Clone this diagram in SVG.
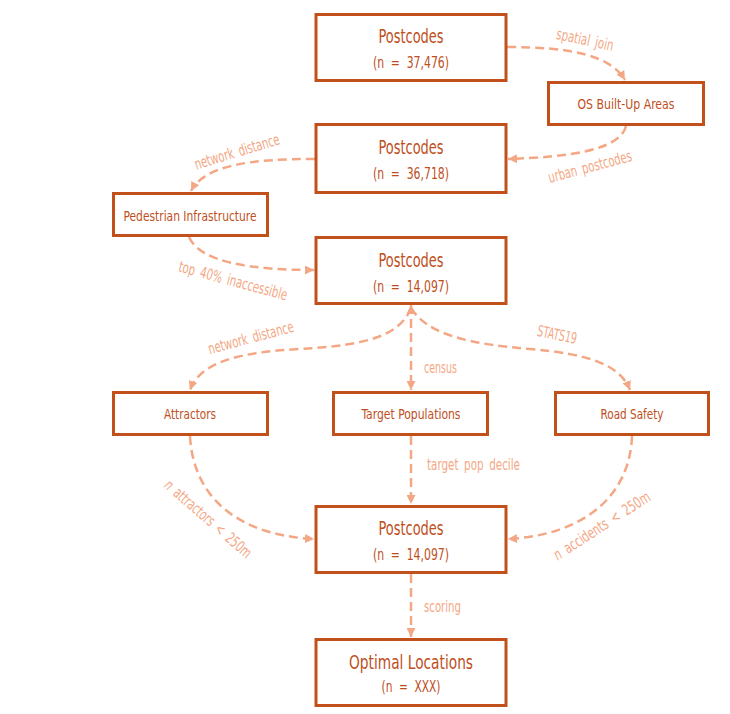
<svg xmlns="http://www.w3.org/2000/svg" width="730" height="714" viewBox="0 0 730 714">
<defs>
<style>
.box{fill:#fff;stroke:#C1501B;stroke-width:3}
.t{font-family:"Liberation Sans Narrow","DejaVu Sans Condensed","Liberation Sans",sans-serif;fill:#BE4F1C;text-anchor:middle}
.title{font-size:19px}
.sub{font-size:15px;word-spacing:4px}
.small{font-size:14.5px}
.e{fill:none;stroke:#F4A784;stroke-width:2.5;stroke-dasharray:9 5}
.lbl{font-family:"Liberation Sans Narrow","DejaVu Sans Condensed","Liberation Sans",sans-serif;font-size:15.5px;fill:#F4A784;word-spacing:3px}
</style>
<marker id="arr" viewBox="0 0 10 10" refX="10" refY="5" markerWidth="9" markerHeight="9" markerUnits="userSpaceOnUse" orient="auto-start-reverse">
<path d="M0,0 L10,5 L0,10 z" fill="#F4A784"/>
</marker>
</defs>
<rect width="730" height="714" fill="#fff"/>

<g id="connectors">
<path class="e" d="M507,47 C570,47 610,55 625,80" marker-end="url(#arr)"/>
<path class="e" d="M626,126 C620,150 570,157 508,159" marker-end="url(#arr)"/>
<path class="e" d="M315,159 C250,159 205,165 191,191" marker-end="url(#arr)"/>
<path class="e" d="M189,237 C200,262 250,270 314,270" marker-end="url(#arr)"/>
<path class="e" d="M411,308 C400,335 370,345 300,349 C240,352 200,362 190,390" marker-end="url(#arr)"/>
<path class="e" d="M411,305 L411,390" marker-start="url(#arr)" marker-end="url(#arr)"/>
<path class="e" d="M411,308 C425,330 455,343 530,349 C590,354 620,365 630,390" marker-end="url(#arr)"/>
<path class="e" d="M190,436 C193,495 235,535 314,539" marker-end="url(#arr)"/>
<path class="e" d="M411,436 L411,504" marker-end="url(#arr)"/>
<path class="e" d="M632,436 C630,495 585,535 508,539" marker-end="url(#arr)"/>
<path class="e" d="M411,574 L411,637" marker-end="url(#arr)"/>
<text class="lbl" text-anchor="middle" transform="translate(585,40) rotate(12)" y="5" textLength="58" lengthAdjust="spacingAndGlyphs">spatial join</text>
<text class="lbl" text-anchor="middle" transform="translate(590,167) rotate(-15)" y="5" textLength="86" lengthAdjust="spacingAndGlyphs">urban postcodes</text>
<text class="lbl" text-anchor="middle" transform="translate(237,152) rotate(-17)" y="5" textLength="88" lengthAdjust="spacingAndGlyphs">network distance</text>
<text class="lbl" text-anchor="middle" transform="translate(233,281) rotate(15)" y="5" textLength="112" lengthAdjust="spacingAndGlyphs">top 40% inaccessible</text>
<text class="lbl" text-anchor="middle" transform="translate(251,338) rotate(-15)" y="5" textLength="88" lengthAdjust="spacingAndGlyphs">network distance</text>
<text class="lbl" text-anchor="middle" transform="translate(557,335) rotate(12)" y="5" textLength="40" lengthAdjust="spacingAndGlyphs">STATS19</text>
<text class="lbl" x="424" y="373" textLength="33" lengthAdjust="spacingAndGlyphs">census</text>
<text class="lbl" x="427" y="470" textLength="93" lengthAdjust="spacingAndGlyphs">target pop decile</text>
<text class="lbl" x="424" y="612" textLength="37" lengthAdjust="spacingAndGlyphs">scoring</text>
<text class="lbl" text-anchor="middle" transform="translate(208,519) rotate(41)" y="5" textLength="110" lengthAdjust="spacingAndGlyphs"><tspan font-style="italic">n</tspan> attractors &lt; 250m</text>
<text class="lbl" text-anchor="middle" transform="translate(602,526) rotate(-33)" y="5" textLength="112" lengthAdjust="spacingAndGlyphs"><tspan font-style="italic">n</tspan> accidents &lt; 250m</text>
</g>

<g id="postcodes1">
<rect class="box" x="316" y="14.5" width="190" height="66"/>
<text class="t title" x="411" y="43" textLength="65" lengthAdjust="spacingAndGlyphs">Postcodes</text>
<text class="t sub" x="411" y="68" textLength="76" lengthAdjust="spacingAndGlyphs">(n = 37,476)</text>
</g>
<g id="os-built-up-areas">
<rect class="box" x="548.5" y="82.5" width="155" height="42"/>
<text class="t small" x="626" y="109" textLength="97" lengthAdjust="spacingAndGlyphs">OS Built-Up Areas</text>
</g>
<g id="postcodes2">
<rect class="box" x="316" y="124.5" width="190" height="68"/>
<text class="t title" x="411" y="154" textLength="65" lengthAdjust="spacingAndGlyphs">Postcodes</text>
<text class="t sub" x="411" y="179" textLength="76" lengthAdjust="spacingAndGlyphs">(n = 36,718)</text>
</g>
<g id="pedestrian-infrastructure">
<rect class="box" x="113.5" y="193.5" width="154" height="42"/>
<text class="t small" x="190" y="221" textLength="133" lengthAdjust="spacingAndGlyphs">Pedestrian Infrastructure</text>
</g>
<g id="postcodes3">
<rect class="box" x="316" y="237.5" width="190" height="66"/>
<text class="t title" x="411" y="267" textLength="65" lengthAdjust="spacingAndGlyphs">Postcodes</text>
<text class="t sub" x="411" y="292" textLength="76" lengthAdjust="spacingAndGlyphs">(n = 14,097)</text>
</g>
<g id="attractors">
<rect class="box" x="113.5" y="392.5" width="154" height="42"/>
<text class="t small" x="190" y="419" textLength="52" lengthAdjust="spacingAndGlyphs">Attractors</text>
</g>
<g id="target-populations">
<rect class="box" x="333.5" y="392.5" width="154" height="42"/>
<text class="t small" x="411" y="419" textLength="99" lengthAdjust="spacingAndGlyphs">Target Populations</text>
</g>
<g id="road-safety">
<rect class="box" x="555.5" y="392.5" width="153" height="42"/>
<text class="t small" x="632" y="419" textLength="63" lengthAdjust="spacingAndGlyphs">Road Safety</text>
</g>
<g id="postcodes4">
<rect class="box" x="316" y="506.5" width="190" height="66"/>
<text class="t title" x="411" y="535" textLength="65" lengthAdjust="spacingAndGlyphs">Postcodes</text>
<text class="t sub" x="411" y="560" textLength="76" lengthAdjust="spacingAndGlyphs">(n = 14,097)</text>
</g>
<g id="optimal-locations">
<rect class="box" x="316" y="639.5" width="190" height="66"/>
<text class="t title" x="411" y="669" textLength="124" lengthAdjust="spacingAndGlyphs">Optimal Locations</text>
<text class="t sub" x="411" y="692" textLength="59" lengthAdjust="spacingAndGlyphs">(n = XXX)</text>
</g>
</svg>
